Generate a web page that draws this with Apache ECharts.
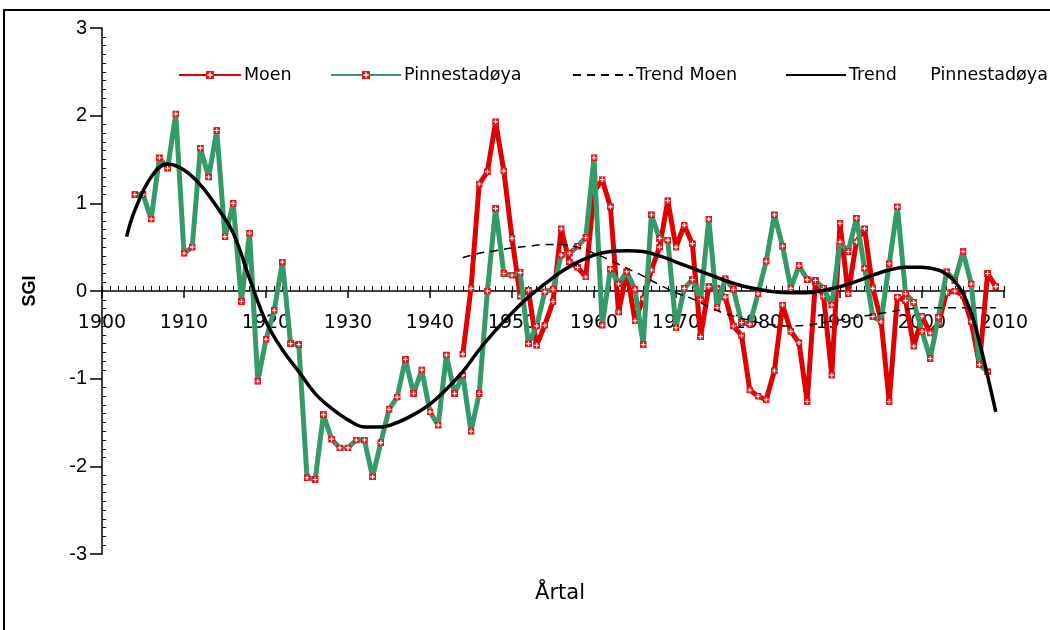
<!DOCTYPE html>
<html><head><meta charset="utf-8">
<script src="https://cdn.jsdelivr.net/npm/echarts/dist/echarts.min.js"></script>
<style>html,body{margin:0;padding:0;background:#fff}#c{width:1050px;height:630px}</style>
</head><body><div id="c"></div>
<script>
// ---- data ----
const moenStartYear = 1944;
const moenValues = [
  -0.72, 0.03, 1.22, 1.36, 1.93, 1.37, 0.60, -0.06, 0.01, -0.62,
  -0.39, -0.12, 0.71, 0.33, 0.27, 0.16, 1.13, 1.27, 0.96, -0.24,
  0.22, -0.34, -0.09, 0.24, 0.50, 1.03, 0.50, 0.75, 0.54, -0.52,
  0.05, 0.03, -0.07, -0.40, -0.51, -1.13, -1.20, -1.24, -0.91, -0.16,
  -0.46, -0.59, -1.26, 0.10, -0.06, -0.96, 0.77, -0.03, 0.56, 0.71,
  0.03, -0.33, -1.26, -0.07, -0.11, -0.63, -0.29, -0.48, -0.37, -0.02,
  0.00, -0.05, -0.35, -0.84, 0.20, 0.05
];
const pinStartYear = 1904;
const pinValues = [
  1.10, 1.10, 0.82, 1.52, 1.40, 2.02, 0.43, 0.50, 1.63, 1.30,
  1.83, 0.62, 1.00, -0.12, 0.66, -1.03, -0.55, -0.22, 0.33, -0.60,
  -0.61, -2.13, -2.15, -1.41, -1.69, -1.79, -1.79, -1.70, -1.70, -2.12,
  -1.73, -1.35, -1.21, -0.78, -1.17, -0.90, -1.38, -1.53, -0.73, -1.17,
  -0.96, -1.60, -1.17, 0.00, 0.94, 0.20, 0.18, 0.21, -0.60, -0.40,
  -0.01, 0.02, 0.41, 0.43, 0.51, 0.61, 1.52, -0.39, 0.25, 0.08,
  0.22, 0.02, -0.61, 0.87, 0.60, 0.58, -0.42, 0.03, 0.13, -0.10,
  0.82, -0.19, 0.14, 0.02, -0.36, -0.38, -0.03, 0.34, 0.87, 0.51,
  0.03, 0.29, 0.13, 0.12, 0.03, -0.16, 0.56, 0.45, 0.83, 0.26,
  -0.29, -0.35, 0.31, 0.96, -0.03, -0.13, -0.46, -0.77, -0.30, 0.22,
  0.12, 0.45, 0.08, -0.84, -0.92
];
const trendMoenYears = [1944,1946,1948,1950,1952,1954,1956,1958,1960,1962,1964,1966,1968,1970,1972,1974,1976,1978,1980,1982,1984,1986,1988,1990,1992,1994,1996,1998,2000,2002,2004,2006,2009];
const trendMoenValues = [0.38,0.43,0.46,0.49,0.51,0.53,0.53,0.50,0.43,0.35,0.26,0.17,0.07,-0.02,-0.09,-0.18,-0.26,-0.31,-0.36,-0.39,-0.40,-0.39,-0.36,-0.33,-0.30,-0.27,-0.24,-0.21,-0.19,-0.19,-0.19,-0.19,-0.19];
const trendPinYears = [1903,1904,1906,1908,1910,1912,1914,1916,1918,1920,1922,1924,1926,1928,1930,1932,1934,1936,1938,1940,1942,1944,1946,1948,1950,1952,1954,1956,1958,1960,1962,1964,1966,1968,1970,1972,1974,1976,1978,1980,1982,1984,1986,1988,1990,1992,1994,1996,1998,2000,2002,2003,2004,2005,2006,2007,2008,2009];
const trendPinValues = [0.62,0.92,1.30,1.45,1.38,1.21,0.96,0.66,0.14,-0.35,-0.67,-0.92,-1.17,-1.34,-1.47,-1.55,-1.55,-1.50,-1.41,-1.29,-1.12,-0.92,-0.67,-0.45,-0.25,-0.07,0.08,0.22,0.33,0.41,0.45,0.46,0.45,0.40,0.33,0.26,0.19,0.12,0.06,0.02,-0.01,-0.02,-0.02,0.01,0.05,0.11,0.18,0.24,0.27,0.27,0.24,0.19,0.11,-0.03,-0.25,-0.58,-0.97,-1.38];
const xMin = 1900, xMax = 2010, xStep = 10;
const yMin = -3, yMax = 3, yStep = 1;
const seriesNames = ['Moen', 'Pinnestadøya', 'Trend Moen', 'Trend      Pinnestadøya'];

// ---- build ----
const toPairs = (start, vals) => vals.map((v, i) => [start + i, v]);
const zip = (xs, ys) => xs.map((x, i) => [x, ys[i]]);

const markerSvg = '<svg xmlns="http://www.w3.org/2000/svg" width="14" height="14" viewBox="0 0 7 7">' +
  '<rect width="7" height="7" fill="#e3141b"/>' +
  '<path d="M3.5 1.2V5.8M1.2 3.5H5.8" stroke="#ffffff" stroke-width="1.1"/></svg>';
const marker = 'image://data:image/svg+xml;charset=utf-8,' + encodeURIComponent(markerSvg);

const RED = '#e00000', GREEN = '#349a68';
const FONT = 'DejaVu Sans';
const L = 102, R = 46, T = 28, B = 76;
const gridBox = { left: L, right: R, top: T, bottom: B, outerBoundsMode: 'none', containLabel: false };
// grid whose bottom edge sits on y = 0 of the data grid, used for the year labels
const zeroY = T + (630 - T - B) * (yMax - 0) / (yMax - yMin);
const labelGrid = { left: L, right: R, top: T, bottom: 630 - zeroY, outerBoundsMode: 'none', containLabel: false };
const hiddenLegendDot = { color: 'rgba(0,0,0,0)', borderWidth: 0, opacity: 0 };

const legendSpec = [
  { left: 178, w: 62, hide: false },
  { left: 330, w: 70, hide: false },
  { left: 572, w: 60, hide: true },
  { left: 785, w: 60, hide: true }
];
const legends = legendSpec.map((s, i) => ({
  left: s.left, top: 66, padding: 0, width: 600,
  itemWidth: s.w, itemHeight: 10, itemGap: 0,
  textStyle: { fontSize: 17.5, color: '#000', fontFamily: FONT, padding: [0, 0, 0, -2] },
  data: [s.hide ? { name: seriesNames[i], itemStyle: hiddenLegendDot } : { name: seriesNames[i] }]
}));

const chart = echarts.init(document.getElementById('c'), null, { renderer: 'canvas' });
chart.setOption({
  animation: false,
  backgroundColor: '#ffffff',
  grid: [Object.assign({}, gridBox), Object.assign({}, gridBox), labelGrid],
  legend: legends,
  xAxis: [{
    gridIndex: 0, type: 'value', min: xMin, max: xMax, interval: xStep,
    axisLine: { onZero: true, lineStyle: { color: '#000', width: 1.5 } },
    axisTick: { show: true, length: 7, lineStyle: { color: '#000', width: 1.5 } },
    axisLabel: { show: false },
    splitLine: { show: false }
  }, {
    gridIndex: 1, type: 'value', min: xMin, max: xMax, interval: xStep,
    axisLine: { show: false, onZero: true },
    axisTick: { show: true, inside: true, length: 5, lineStyle: { color: '#000', width: 1.2 } },
    minorTick: { show: true, splitNumber: 10, length: 5, lineStyle: { color: '#000', width: 1 } },
    axisLabel: { show: false },
    splitLine: { show: false }
  }, {
    gridIndex: 2, type: 'value', min: xMin, max: xMax, interval: xStep, position: 'bottom',
    axisLine: { show: false, onZero: false },
    axisTick: { show: false },
    axisLabel: { fontSize: 19, color: '#000', fontFamily: FONT, margin: 23, formatter: v => String(v) },
    splitLine: { show: false }
  }],
  yAxis: [{
    gridIndex: 0, type: 'value', min: yMin, max: yMax, interval: yStep,
    axisLine: { show: true, onZero: false, lineStyle: { color: '#000', width: 1.5 } },
    axisTick: { show: true, length: 12, lineStyle: { color: '#000', width: 1.5 } },
    axisLabel: { fontSize: 20, color: '#000', fontFamily: 'Liberation Sans Narrow, Liberation Sans, sans-serif', margin: 15 },
    splitLine: { show: false }
  }, {
    gridIndex: 1, type: 'value', min: yMin, max: yMax, interval: yStep,
    axisLine: { show: false, onZero: false },
    axisTick: { show: false, inside: true },
    minorTick: { show: true, splitNumber: 10, length: 4, lineStyle: { color: '#000', width: 1 } },
    axisLabel: { show: false },
    splitLine: { show: false }
  }, {
    gridIndex: 2, type: 'value', min: 0, max: 1, show: false
  }],
  series: [{
    name: seriesNames[0], type: 'line', xAxisIndex: 0, yAxisIndex: 0,
    data: toPairs(moenStartYear, moenValues),
    lineStyle: { color: RED, width: 5 }, itemStyle: { color: RED },
    symbol: marker, symbolSize: 7, showSymbol: true, z: 2
  }, {
    name: seriesNames[1], type: 'line', xAxisIndex: 0, yAxisIndex: 0,
    data: toPairs(pinStartYear, pinValues),
    lineStyle: { color: GREEN, width: 5 }, itemStyle: { color: GREEN },
    symbol: marker, symbolSize: 7, showSymbol: true, z: 3
  }, {
    name: seriesNames[2], type: 'line', xAxisIndex: 0, yAxisIndex: 0,
    data: zip(trendMoenYears, trendMoenValues), smooth: 0.4,
    lineStyle: { color: '#000', width: 1.5, type: [8, 6] }, itemStyle: { color: '#000' },
    symbol: 'none', z: 4
  }, {
    name: seriesNames[3], type: 'line', xAxisIndex: 0, yAxisIndex: 0,
    data: zip(trendPinYears, trendPinValues), smooth: 0.4,
    lineStyle: { color: '#000', width: 3.5 }, itemStyle: { color: '#000' },
    symbol: 'none', z: 5
  }],
  graphic: [{
    type: 'rect', silent: true, z: -1,
    shape: { x: 4, y: 10, width: 1100, height: 700 },
    style: { fill: 'none', stroke: '#000', lineWidth: 2 }
  }, {
    type: 'text', silent: true, x: 560, y: 594,
    style: { text: 'Årtal', fontSize: 21, fontFamily: FONT, fill: '#000', textAlign: 'center', textVerticalAlign: 'middle' }
  }, {
    type: 'text', silent: true, x: 30, y: 291, rotation: Math.PI / 2,
    style: { text: 'SGI', fontSize: 18, fontWeight: 'bold', fontFamily: 'Liberation Sans, Arial, sans-serif', fill: '#000', textAlign: 'center', textVerticalAlign: 'middle' }
  }]
});
</script>
</body></html>
